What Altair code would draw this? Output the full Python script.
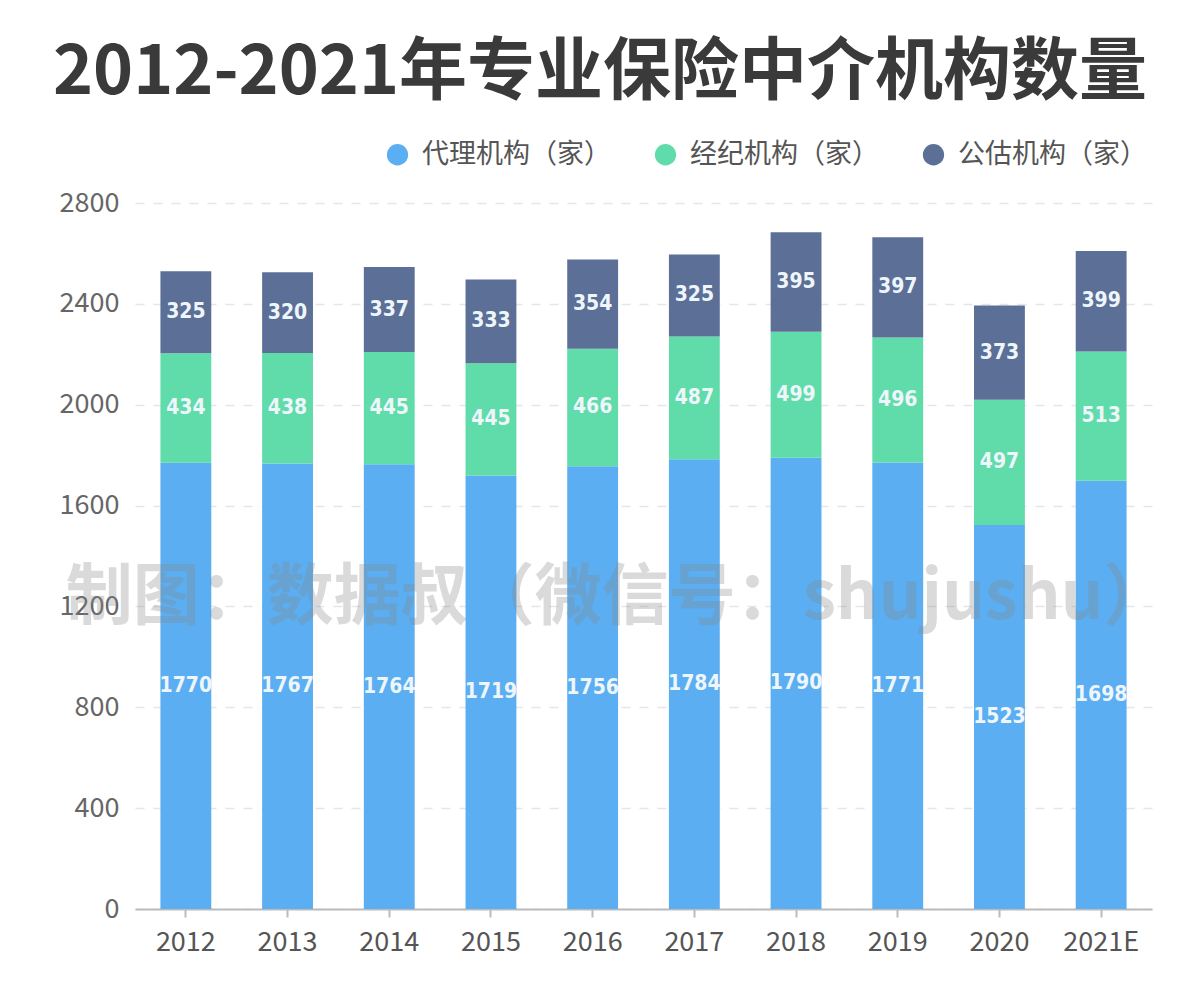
import altair as alt
import pandas as pd

years = ["2012", "2013", "2014", "2015", "2016", "2017", "2018", "2019", "2020", "2021E"]
agency = [1770, 1767, 1764, 1719, 1756, 1784, 1790, 1771, 1523, 1698]
broker = [434, 438, 445, 445, 466, 487, 499, 496, 497, 513]
assess = [325, 320, 337, 333, 354, 325, 395, 397, 373, 399]
series = ["代理机构（家）", "经纪机构（家）", "公估机构（家）"]
colors = ["#5BAEF1", "#60DBAA", "#5B6F97"]
y_ticks = [0, 400, 800, 1200, 1600, 2000, 2400, 2800]
title_text = "2012-2021年专业保险中介机构数量"
watermark_text = "制图：数据叔（微信号：shujushu）"

rows = []
for i, yr in enumerate(years):
    for k, (name, vals) in enumerate(zip(series, [agency, broker, assess])):
        rows.append({"year": yr, "series": name, "value": vals[i], "order": k})
df = pd.DataFrame(rows)

base = alt.Chart(df)

x_enc = alt.X(
    "year:N", sort=years,
    scale=alt.Scale(paddingInner=0.5, paddingOuter=0.25),
    axis=alt.Axis(title=None, labelAngle=0, labelFontSize=27, labelColor="#555555",
                  labelFont="Noto Sans CJK SC", domainColor="#bbbbbb", domainWidth=2,
                  tickColor="#bbbbbb", tickSize=8, tickWidth=2, labelPadding=12, grid=False),
)

bars = base.mark_bar().encode(
    x=x_enc,
    y=alt.Y("value:Q", stack="zero",
            scale=alt.Scale(domain=[0, 2800], nice=False),
            axis=alt.Axis(title=None, values=y_ticks, format="d", labelFontSize=27,
                          labelColor="#666666", labelFont="Noto Sans CJK SC", labelPadding=16,
                          tickSize=0, domain=False,
                          gridDash=[9, 9], gridColor="#e6e6e6", gridWidth=1.5)),
    color=alt.Color("series:N", sort=series,
                    scale=alt.Scale(domain=series, range=colors),
                    legend=alt.Legend(title=None, orient="none", legendX=249, legendY=-62,
                                      direction="horizontal", symbolType="circle", symbolSize=452,
                                      symbolOpacity=1, symbolStrokeWidth=0,
                                      labelFontSize=27, labelColor="#555555",
                                      labelFont="Noto Sans CJK SC", columnPadding=41,
                                      labelOffset=11, labelLimit=300)),
    order=alt.Order("order:Q", sort="ascending"),
)

labels = base.transform_stack(
    stack="value", groupby=["year"], sort=[alt.SortField("order", "ascending")], as_=["y0", "y1"]
).transform_calculate(
    mid="(datum.y0 + datum.y1) / 2"
).mark_text(
    font="'DejaVu Sans Condensed', Roboto, sans-serif", fontWeight="bold", fontSize=21,
    color="#eef6fb", align="center", baseline="middle"
).encode(
    x=alt.X("year:N", sort=years),
    y=alt.Y("mid:Q"),
    text="value:Q",
)

wm = alt.Chart(pd.DataFrame({"t": [watermark_text]})).mark_text(
    font="Noto Sans CJK SC", fontWeight="bold", fontSize=67, color="#888888", opacity=0.3,
    align="center", baseline="middle"
).encode(x=alt.value(483), y=alt.value(396), text="t:N")

title = alt.Chart(pd.DataFrame({"t": [title_text]})).mark_text(
    font="Noto Sans CJK SC", fontWeight="bold", fontSize=68, color="#3a3a3a",
    align="center", baseline="middle"
).encode(x=alt.value(465), y=alt.value(-129), text="t:N")

chart = alt.layer(bars, wm, labels, title).properties(
    width=1017, height=706,
    autosize=alt.AutoSizeParams(type="none"),
    padding={"left": 127, "top": 195, "right": 40, "bottom": 85},
).configure_view(stroke=None)

chart.save("out.html", embed_options={"renderer": "svg", "actions": False})
